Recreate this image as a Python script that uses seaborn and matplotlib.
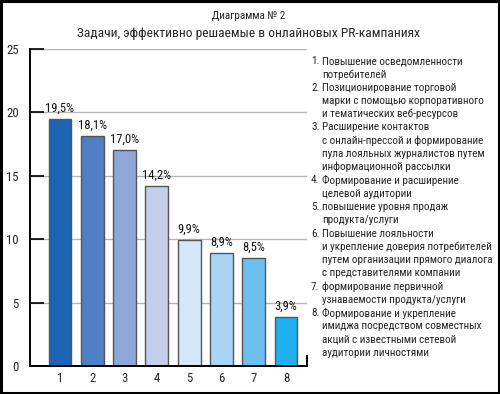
import matplotlib
matplotlib.use("Agg")
import matplotlib.pyplot as plt
import seaborn as sns
import pandas as pd
from matplotlib.patches import Rectangle

# =============================================================================
# DATA
# =============================================================================
categories = ["1", "2", "3", "4", "5", "6", "7", "8"]
values     = [19.5, 18.1, 17.0, 14.2, 9.9, 8.9, 8.5, 3.9]
bar_colors = ["#1e64b4", "#4f7fc4", "#8fa6d8", "#c4cde9",
              "#d4e7f8", "#a9d5f4", "#6cbfee", "#1eb0ef"]
y_ticks    = [0, 5, 10, 15, 20, 25]

supertitle = "Диаграмма № 2"
title      = "Задачи, эффективно решаемые в онлайновых PR-кампаниях"

items = [
    ["Повышение осведомленности", "потребителей"],
    ["Позиционирование торговой", "марки с помощью корпоративного",
     "и тематических веб-ресурсов"],
    ["Расширение контактов", "с онлайн-прессой и формирование",
     "пула лояльных журналистов путем", "информационной рассылки"],
    ["Формирование и расширение", "целевой аудитории"],
    ["повышение уровня продаж", "продукта/услуги"],
    ["Повышение лояльности", "и укрепление доверия потребителей",
     "путем организации прямого диалога", "с представителями компании"],
    ["формирование первичной", "узнаваемости продукта/услуги"],
    ["Формирование и укрепление", "имиджа посредством совместных",
     "акций с известными сетевой", "аудитории личностями"],
]

# =============================================================================
# STYLE
# =============================================================================
sns.set_theme(style="white")
plt.rcParams["font.family"] = ["Roboto Condensed", "PT Sans Narrow", "DejaVu Sans"]

df = pd.DataFrame({"cat": categories, "val": values})

fig = plt.figure(figsize=(5.0, 3.94), dpi=100)
renderer = fig.canvas.get_renderer()


def fit_size(text, target_px, base=10.0):
    # font size that gives the text the wanted pixel width
    t = fig.text(0, 0, text, fontsize=base)
    w = t.get_window_extent(renderer).width
    t.remove()
    return base * target_px / w


fs_title = fit_size(title, 342)
fs_super = fit_size(supertitle, 73)
fs_list  = fit_size("и укрепление доверия потребителей", 169)
fs_val   = fit_size("19,5%", 29)
fs_tick  = fit_size("25", 12.5)

ax = fig.add_axes([0.06, 0.071, 0.554, 0.805])

sns.barplot(data=df, x="cat", y="val", hue="cat", palette=bar_colors,
            legend=False, width=0.71, edgecolor="#555555", linewidth=1.0,
            saturation=1, ax=ax)

for cont, v in zip(ax.containers, values):
    ax.bar_label(cont, labels=[f"{v:.1f}%".replace(".", ",")],
                 padding=3, fontsize=fs_val, color="#111111")

ax.set_xlim(-0.93, 7.65)
ax.set_ylim(0, 25)
ax.set_yticks(y_ticks)
ax.set_xlabel("")
ax.set_ylabel("")
ax.yaxis.grid(True, color="#b5b5b5", linewidth=1.0)
ax.set_axisbelow(True)
ax.tick_params(axis="y", direction="in", length=10, width=1.2,
               color="black", pad=8, labelsize=fs_tick, left=True)
ax.tick_params(axis="x", length=0, pad=4, labelsize=fs_tick)

ax.spines["top"].set_visible(False)
for side in ["left", "bottom", "right"]:
    ax.spines[side].set_color("black")
    ax.spines[side].set_linewidth(1.4)
ax.spines["right"].set_bounds(0, 0.8)

# titles
fig.text(0.497, 1 - 16 / 394, supertitle, ha="center", va="center", fontsize=fs_super)
fig.text(0.497, 1 - 34 / 394, title, ha="center", va="center", fontsize=fs_title)

# numbered description list
y = 1 - 61 / 394
step = 13.27 / 394
for i, lines in enumerate(items, start=1):
    fig.text(311 / 500, y, f"{i}.", ha="left", va="center", fontsize=fs_list)
    for line in lines:
        fig.text(322 / 500, y, line, ha="left", va="center", fontsize=fs_list)
        y -= step

# outer frame
fig.patches.append(Rectangle((0.002, 0.003), 0.996, 0.994,
                             transform=fig.transFigure, fill=False,
                             edgecolor="black", linewidth=2.2))

fig.savefig("out.png", dpi=100)
